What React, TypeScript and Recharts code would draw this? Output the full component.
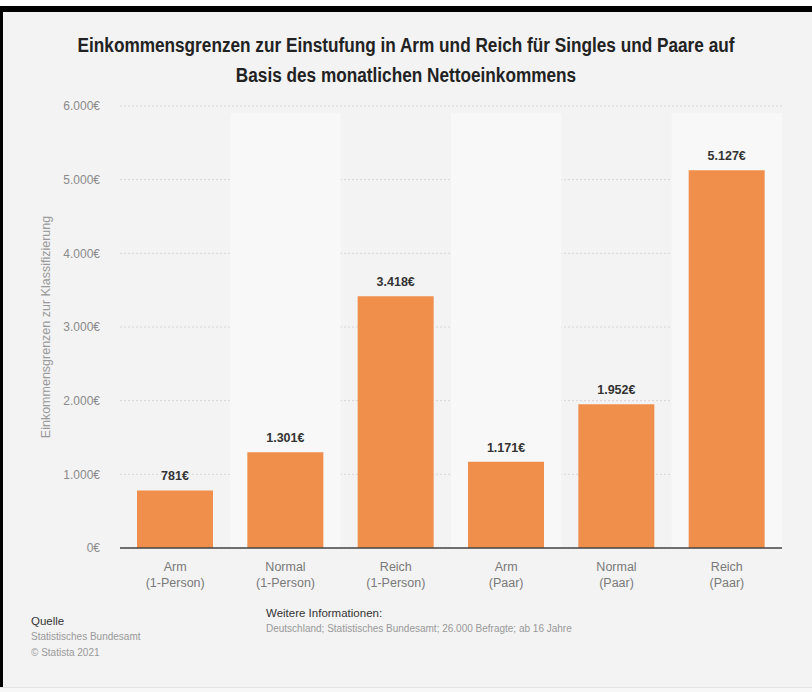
import React from "react";
import {
  BarChart,
  Bar,
  XAxis,
  YAxis,
  CartesianGrid,
  LabelList,
  ReferenceArea,
} from "recharts";

const levels = ["Arm", "Normal", "Reich", "Arm", "Normal", "Reich"];
const groups = ["(1-Person)", "(1-Person)", "(1-Person)", "(Paar)", "(Paar)", "(Paar)"];
const values = [781, 1301, 3418, 1171, 1952, 5127];
const yTicks = [0, 1000, 2000, 3000, 4000, 5000, 6000];

const FONT = "'Liberation Sans', Arial, sans-serif";

const euro = (v: number) =>
  String(v).replace(/\B(?=(\d{3})+(?!\d))/g, ".") + "€";

const data = values.map((v, i) => ({
  key: `${levels[i]} ${groups[i]}`,
  level: levels[i],
  group: groups[i],
  value: v,
}));

function CatTick(props: any) {
  const { x, y, index } = props;
  return (
    <g transform={`translate(${x},${y})`}>
      <text textAnchor="middle" fill="#7a7a7a" fontSize={12.5} fontFamily={FONT}>
        <tspan x={0} dy={15}>{levels[index]}</tspan>
        <tspan x={0} dy={16}>{groups[index]}</tspan>
      </text>
    </g>
  );
}

export default function App() {
  return (
    <div
      style={{
        position: "absolute",
        left: 0,
        top: 0,
        width: 812,
        height: 692,
        background: "#ffffff",
        overflow: "hidden",
      }}
    >
      <div
        style={{
          position: "absolute",
          left: 0,
          top: 6,
          width: 812,
          height: 681,
          background: "#000",
        }}
      />
      <div
        style={{
          position: "absolute",
          left: 3,
          top: 12,
          width: 809,
          height: 675,
          background: "#f3f3f3",
        }}
      />
      <div
        style={{
          position: "absolute",
          left: 0,
          top: 687,
          width: 812,
          height: 5,
          background: "#f7f7f7",
          borderTop: "1px solid #e4e4e4",
        }}
      />
      <div
        style={{
          position: "absolute",
          left: 0,
          top: 30,
          width: 812,
          textAlign: "center",
          fontFamily: FONT,
          fontWeight: 700,
          fontSize: 20,
          lineHeight: "30px",
          color: "#222",
          transform: "scaleX(0.86)",
          transformOrigin: "406px 0",
        }}
      >
        Einkommensgrenzen zur Einstufung in Arm und Reich für Singles und Paare auf
        <br />
        Basis des monatlichen Nettoeinkommens
      </div>

      <div style={{ position: "absolute", left: 0, top: 0 }}>
        <BarChart
          width={812}
          height={630}
          data={data}
          margin={{ top: 106, right: 30, bottom: 52, left: 40 }}
          barSize={76}
        >
          {[1, 3, 5].map((i) => (
            <ReferenceArea
              key={i}
              x1={data[i].key}
              x2={data[i].key}
              y1={0}
              y2={5900}
              fill="#f8f8f8"
              fillOpacity={1}
              stroke="none"
            />
          ))}
          <CartesianGrid
            vertical={false}
            stroke="#d6d6d6"
            strokeDasharray="2 2"
          />
          <XAxis
            dataKey="key"
            tick={<CatTick />}
            tickLine={false}
            axisLine={{ stroke: "#444", strokeWidth: 1.5 }}
            interval={0}
          />
          <YAxis
            width={80}
            domain={[0, 6000]}
            ticks={yTicks}
            tickFormatter={euro}
            tickLine={false}
            axisLine={false}
            tickMargin={14}
            tick={{ fill: "#8a8a8a", fontSize: 12, fontFamily: FONT }}
            label={{
              value: "Einkommensgrenzen zur Klassifizierung",
              angle: -90,
              position: "insideLeft",
              offset: 6,
              style: {
                fill: "#9a9a9a",
                fontSize: 12.5,
                fontFamily: FONT,
                textAnchor: "middle",
              },
            }}
          />
          <Bar dataKey="value" fill="#ef8f4b" isAnimationActive={false}>
            <LabelList
              dataKey="value"
              position="top"
              offset={10}
              formatter={(v: any) => euro(Number(v))}
              style={{
                fill: "#333",
                fontSize: 12.5,
                fontWeight: 700,
                fontFamily: FONT,
              }}
            />
          </Bar>
        </BarChart>
      </div>

      <div
        style={{
          position: "absolute",
          left: 31,
          top: 613,
          fontFamily: FONT,
          fontSize: 10,
          lineHeight: "16px",
        }}
      >
        <div style={{ color: "#333", fontSize: 11.5 }}>Quelle</div>
        <div style={{ color: "#999" }}>Statistisches Bundesamt</div>
        <div style={{ color: "#999" }}>© Statista 2021</div>
      </div>
      <div
        style={{
          position: "absolute",
          left: 266,
          top: 605,
          fontFamily: FONT,
          fontSize: 10,
          lineHeight: "16px",
        }}
      >
        <div style={{ color: "#333", fontSize: 11.5 }}>Weitere Informationen:</div>
        <div style={{ color: "#999" }}>
          Deutschland; Statistisches Bundesamt; 26.000 Befragte; ab 16 Jahre
        </div>
      </div>
    </div>
  );
}
